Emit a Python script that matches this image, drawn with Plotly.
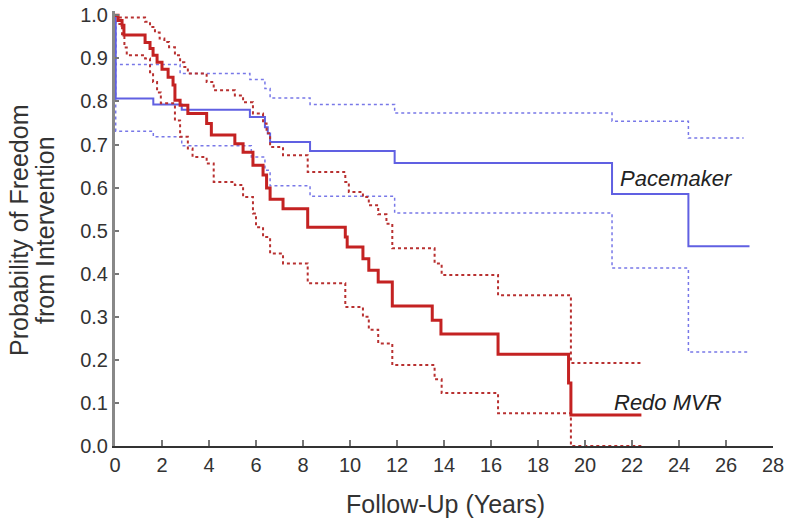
import plotly.graph_objects as go

# Pacemaker: Kaplan-Meier estimate and 95% CI (step times in years, survival)
pm_t = [0, 0.03, 1.63, 2.84, 5.74, 6.38, 6.5, 6.6, 8.3, 11.9, 21.15, 24.4, 27.0]
pm_s = [1.0, 0.807, 0.793, 0.781, 0.764, 0.74, 0.7255, 0.706, 0.685, 0.657, 0.585, 0.464, 0.464]

pm_up_t = [0, 0.03, 2.77, 5.74, 6.38, 6.6, 8.3, 11.9, 21.15, 24.4, 26.75]
pm_up_s = [1.0, 0.886, 0.865, 0.851, 0.83, 0.808, 0.793, 0.773, 0.754, 0.715, 0.715]

pm_lo_t = [0, 0.03, 1.63, 2.84, 5.8, 6.38, 6.6, 8.3, 11.9, 21.15, 24.4, 27.0]
pm_lo_s = [1.0, 0.731, 0.718, 0.697, 0.671, 0.64, 0.604, 0.58, 0.541, 0.413, 0.218, 0.218]

# Redo MVR: Kaplan-Meier estimate and 95% CI
mvr_t = [0, 0.13, 0.3, 0.38, 1.28, 1.49, 1.62, 1.79, 2.0, 2.26, 2.47, 2.55, 2.77, 3.1,
         3.9, 4.1, 5.1, 5.45, 5.87, 6.3, 6.45, 6.6, 7.15, 8.2, 9.8, 9.88, 10.55, 10.8,
         11.2, 11.8, 13.5, 13.87, 16.3, 19.3, 19.4, 22.4]
mvr_s = [1.0, 0.988, 0.977, 0.954, 0.937, 0.923, 0.907, 0.891, 0.875, 0.856, 0.838, 0.803,
         0.791, 0.772, 0.749, 0.722, 0.702, 0.682, 0.652, 0.629, 0.599, 0.573, 0.551,
         0.508, 0.485, 0.462, 0.435, 0.408, 0.381, 0.325, 0.292, 0.26, 0.213, 0.146,
         0.072, 0.072]

mvr_up_t = [0, 0.1, 1.28, 1.49, 1.7, 1.9, 2.1, 2.3, 2.55, 2.77, 2.95, 3.1, 3.9, 4.2, 5.1,
            5.45, 5.87, 6.3, 6.45, 6.6, 7.15, 8.2, 9.8, 9.95, 10.55, 10.8, 11.2, 11.55,
            11.8, 13.6, 13.9, 16.3, 19.4, 22.4]
mvr_up_s = [1.0, 0.995, 0.985, 0.973, 0.96, 0.946, 0.938, 0.926, 0.907, 0.891, 0.88,
            0.865, 0.845, 0.826, 0.814, 0.798, 0.772, 0.749, 0.726, 0.694, 0.675, 0.636,
            0.613, 0.59, 0.578, 0.559, 0.538, 0.516, 0.459, 0.424, 0.397, 0.35, 0.193,
            0.193]

mvr_lo_t = [0, 0.13, 0.3, 0.4, 0.5, 1.28, 1.49, 1.62, 1.79, 1.95, 2.55, 2.77, 3.1, 3.3,
            3.9, 4.2, 5.1, 5.45, 5.87, 6.0, 6.3, 6.6, 7.15, 8.2, 9.8, 10.55, 10.8, 11.2,
            11.8, 13.6, 13.9, 16.3, 19.4, 22.4]
mvr_lo_s = [1.0, 0.98, 0.95, 0.925, 0.907, 0.9, 0.868, 0.845, 0.821, 0.796, 0.756, 0.718,
            0.691, 0.671, 0.656, 0.613, 0.606, 0.578, 0.54, 0.508, 0.485, 0.447, 0.424,
            0.378, 0.323, 0.3, 0.27, 0.238, 0.188, 0.155, 0.123, 0.076, 0.0, 0.0]

x_ticks = [0, 2, 4, 6, 8, 10, 12, 14, 16, 18, 20, 22, 24, 26, 28]
y_ticks = [0.0, 0.1, 0.2, 0.3, 0.4, 0.5, 0.6, 0.7, 0.8, 0.9, 1.0]

series_labels = ["Pacemaker", "Redo MVR"]
label_pos = [(23.9, 0.622), (23.55, 0.102)]

y_title_lines = ["Probability of Freedom", "from Intervention"]
x_title = "Follow-Up (Years)"

BLUE = "#6060e2"
BLUE_CI = "#7878e8"
RED = "#c42222"
RED_CI = "#b83030"

W, H = 793, 523
ML, MR, MT, MB = 115, 20, 11, 77
PW, PH = W - ML - MR, H - MT - MB

fig = go.Figure()

def step(x, y, color, width, dash):
    fig.add_trace(go.Scatter(x=x, y=y, mode="lines", line_shape="hv",
                             line=dict(color=color, width=width, dash=dash),
                             showlegend=False, hoverinfo="skip"))

step(pm_up_t, pm_up_s, BLUE_CI, 1.5, "dot")
step(pm_lo_t, pm_lo_s, BLUE_CI, 1.5, "dot")
step(pm_t, pm_s, BLUE, 2, "solid")
step(mvr_up_t, mvr_up_s, RED_CI, 2, "dot")
step(mvr_lo_t, mvr_lo_s, RED_CI, 2, "dot")
step(mvr_t, mvr_s, RED, 3, "solid")

for lab, (lx, ly) in zip(series_labels, label_pos):
    fig.add_annotation(x=lx, y=ly, text=f"<i>{lab}</i>", showarrow=False,
                       font=dict(family="Liberation Sans, Arial", size=22, color="#222"),
                       xanchor="center", yanchor="middle")

# axis titles placed by page pixel position
def px(xp):
    return (xp - ML) / PW

def py(yp):
    return (H - MB - yp) / PH

fig.add_annotation(xref="paper", yref="paper", x=px(445), y=py(504),
                   text=x_title, showarrow=False,
                   font=dict(family="Liberation Sans, Arial", size=25, color="#333"),
                   xanchor="center", yanchor="middle")
for line, cx in zip(y_title_lines, [19, 45]):
    fig.add_annotation(xref="paper", yref="paper", x=px(cx), y=py(230),
                       text=line, showarrow=False, textangle=-90,
                       font=dict(family="Liberation Sans, Arial", size=25, color="#333"),
                       xanchor="center", yanchor="middle")

fig.update_layout(
    width=W, height=H,
    margin=dict(l=ML, r=MR, t=MT, b=MB, autoexpand=False),
    paper_bgcolor="white", plot_bgcolor="white",
    font=dict(family="Liberation Sans, Arial", color="#333"),
    hovermode=False,
)
fig.update_xaxes(range=[0, 28], tickvals=x_ticks, ticktext=[str(v) for v in x_ticks],
                 showgrid=False, zeroline=False, showline=True, linecolor="#333",
                 linewidth=2, ticks="inside", ticklen=6, tickwidth=1.5, tickcolor="#777",
                 tickfont=dict(size=20, color="#333"), automargin=False,
                 ticklabeloverflow="allow")
fig.update_yaxes(range=[0, 1.01], tickvals=y_ticks, ticktext=[f"{v:.1f}" for v in y_ticks],
                 showgrid=False, zeroline=False, showline=True, linecolor="#888",
                 linewidth=3, ticks="inside", ticklen=4, tickwidth=1.5, tickcolor="#777",
                 tickfont=dict(size=20, color="#333"), automargin=False,
                 ticklabeloverflow="allow")

# remove the default 8px page margin so the figure fills the window exactly
fig.write_html("out.html", config={"displayModeBar": False},
               post_script="document.body.style.margin='0px';")
